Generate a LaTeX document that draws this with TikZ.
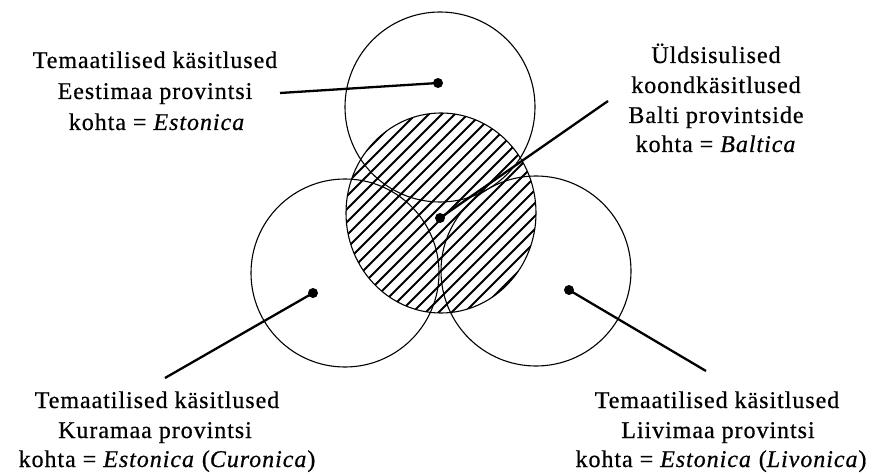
\documentclass[tikz,border=0pt]{standalone}
\usepackage{fontspec}
\setmainfont{Liberation Serif}[LetterSpace=4,FakeBold=0.6]
\begin{document}
\begin{tikzpicture}[x=1pt,y=-1pt,
  ring/.style={draw, circle, line width=1.1pt, inner sep=0pt},
  dot/.style={fill, circle, inner sep=0pt, minimum size=10pt},
  conn/.style={line width=2.3pt},
  hatchline/.style={line width=1.8pt},
  lbl/.style={anchor=base, inner sep=0pt, font=\fontsize{24}{30}\selectfont}]
\useasboundingbox (0,0) rectangle (872,473);
% hatched middle circle
\begin{scope}
  \clip (441,213) ellipse [x radius=95pt, y radius=100pt];
  \foreach \c in {400,413,...,920} {
    \draw[hatchline] (\c-340,340) -- (\c-80,80);
  }
\end{scope}
\draw[line width=1.1pt] (441,213) ellipse [x radius=95pt, y radius=100pt];
% outer circles
\node[ring, minimum size=190pt] (cT) at (440,107) {};
\node[ring, minimum size=188pt] (cL) at (345,273) {};
\node[ring, minimum size=190pt] (cR) at (536,271) {};
% dots
\node[dot] (dT) at (438,83) {};
\node[dot] (dM) at (440,218) {};
\node[dot] (dL) at (313,293) {};
\node[dot] (dR) at (569,290) {};
% connector ends
\coordinate (eT) at (280,93);
\coordinate (eM) at (608,101);
\coordinate (eL) at (165,378);
\coordinate (eR) at (706,371);
\draw[conn] (dT.center) -- (eT);
\draw[conn] (dM.center) -- (eM);
\draw[conn] (dL.center) -- (eL);
\draw[conn] (dR.center) -- (eR);
% top-left label
\node[lbl] (tl1) at (155,68) {Temaatilised käsitlused};
\node[lbl] (tl2) at (155,99) {Eestimaa provintsi};
\node[lbl] (tl3) at (157,130) {kohta = \textit{Estonica}};
% top-right label
\node[lbl] (tr1) at (716,63) {Üldsisulised};
\node[lbl] (tr2) at (716,93) {koondkäsitlused};
\node[lbl] (tr3) at (716,123) {Balti provintside};
\node[lbl] (tr4) at (716,152) {kohta = \textit{Baltica}};
% bottom-left label
\node[lbl] (bl1) at (157,408) {Temaatilised käsitlused};
\node[lbl] (bl2) at (155,438) {Kuramaa provintsi};
\node[lbl] (bl3) at (167,467) {kohta = \textit{Estonica} (\textit{Curonica})};
% bottom-right label
\node[lbl] (br1) at (717,408) {Temaatilised käsitlused};
\node[lbl] (br2) at (718,438) {Liivimaa provintsi};
\node[lbl] (br3) at (721,467) {kohta = \textit{Estonica} (\textit{Livonica})};
\end{tikzpicture}
\end{document}
